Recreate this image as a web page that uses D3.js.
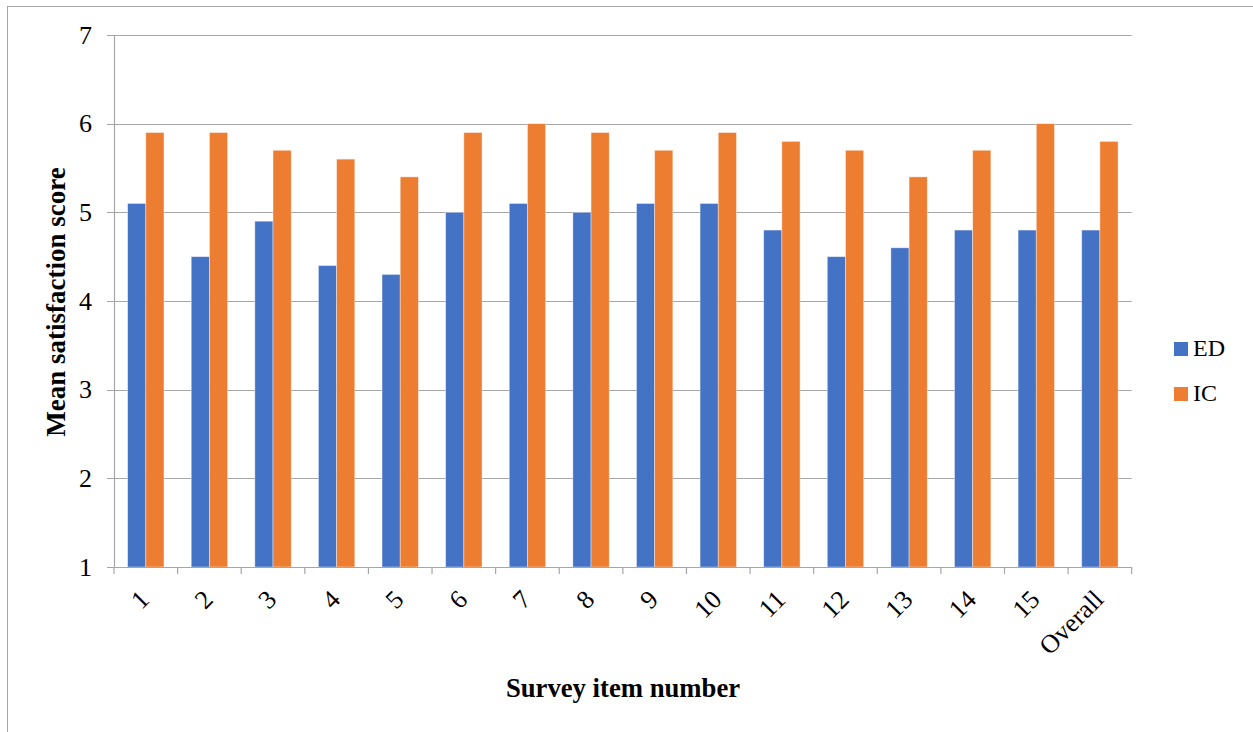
<!DOCTYPE html>
<html>
<head>
<meta charset="utf-8">
<script src="https://cdn.jsdelivr.net/npm/d3@7"></script>
<style>
  html, body { margin: 0; padding: 0; background: #fff; }
  svg { display: block; }
  text { font-family: "Liberation Serif", "Times New Roman", serif; fill: #000; }
</style>
</head>
<body>
<svg id="chart" width="1253" height="732"></svg>
<script>
// Survey items and mean satisfaction scores per department
const categories = ["1","2","3","4","5","6","7","8","9","10","11","12","13","14","15","Overall"];
const seriesNames = ["ED", "IC"];
const edValues = [5.1, 4.5, 4.9, 4.4, 4.3, 5.0, 5.1, 5.0, 5.1, 5.1, 4.8, 4.5, 4.6, 4.8, 4.8, 4.8];
const icValues = [5.9, 5.9, 5.7, 5.6, 5.4, 5.9, 6.0, 5.9, 5.7, 5.9, 5.8, 5.7, 5.4, 5.7, 6.0, 5.8];
const yTicks = [1, 2, 3, 4, 5, 6, 7];
const colors = ["#4472C4", "#ED7D31"];

const svg = d3.select("#chart");

// outer chart frame
svg.append("rect")
  .attr("x", 7.5).attr("y", 6.5)
  .attr("width", 1253).attr("height", 740)
  .attr("fill", "none").attr("stroke", "#A6A6A6").attr("stroke-width", 1);

const plotLeft = 114, plotRight = 1131.7, plotTop = 35, plotBottom = 567;

const x0 = d3.scaleBand().domain(categories).range([plotLeft, plotRight]).paddingInner(0).paddingOuter(0);
const groupWidth = x0.bandwidth() * 0.572;
const x1 = d3.scaleBand().domain(seriesNames).range([0, groupWidth]);
const y = d3.scaleLinear().domain([1, 7]).range([plotBottom, plotTop]);

// horizontal gridlines
svg.append("g")
  .selectAll("line")
  .data(yTicks)
  .join("line")
  .attr("x1", plotLeft - 7).attr("x2", plotRight)
  .attr("y1", d => Math.round(y(d)) + 0.5).attr("y2", d => Math.round(y(d)) + 0.5)
  .attr("stroke", "#A6A6A6").attr("stroke-width", 1);

// y tick labels
svg.append("g")
  .selectAll("text")
  .data(yTicks)
  .join("text")
  .attr("x", 92).attr("y", d => y(d) + 8.5)
  .attr("text-anchor", "end")
  .style("font-size", "26px")
  .text(d => d);

// bars
const rows = categories.map((c, i) => ({ cat: c, vals: [edValues[i], icValues[i]] }));
const groups = svg.append("g")
  .selectAll("g")
  .data(rows)
  .join("g")
  .attr("transform", d => `translate(${x0(d.cat) + (x0.bandwidth() - groupWidth) / 2},0)`);

groups.selectAll("rect")
  .data(d => d.vals.map((v, j) => ({ name: seriesNames[j], v, j })))
  .join("rect")
  .attr("x", d => x1(d.name))
  .attr("width", x1.bandwidth())
  .attr("y", d => y(d.v))
  .attr("height", d => y(1) - y(d.v))
  .attr("fill", d => colors[d.j])
  .attr("stroke", "#fff").attr("stroke-opacity", 0.5).attr("stroke-width", 0.8);

// y axis line
svg.append("line")
  .attr("x1", plotLeft + 0.5).attr("x2", plotLeft + 0.5)
  .attr("y1", plotTop).attr("y2", plotBottom)
  .attr("stroke", "#A6A6A6").attr("stroke-width", 1.2);

// x axis line and category ticks
svg.append("line")
  .attr("x1", plotLeft).attr("x2", plotRight)
  .attr("y1", plotBottom + 0.5).attr("y2", plotBottom + 0.5)
  .attr("stroke", "#A6A6A6").attr("stroke-width", 1.2);

const tickPos = categories.map(c => x0(c)).concat([plotRight]);
svg.append("g")
  .selectAll("line")
  .data(tickPos)
  .join("line")
  .attr("x1", d => d).attr("x2", d => d)
  .attr("y1", plotBottom).attr("y2", plotBottom + 7)
  .attr("stroke", "#A6A6A6").attr("stroke-width", 1.2);

// rotated category labels
svg.append("g")
  .selectAll("text")
  .data(categories)
  .join("text")
  .attr("text-anchor", "end")
  .style("font-size", "26px")
  .attr("transform", c => `translate(${x0(c) + x0.bandwidth() / 2 + 5},${plotBottom + 34}) rotate(-45)`)
  .text(c => c);

// axis titles
svg.append("text")
  .attr("x", 623).attr("y", 697)
  .attr("text-anchor", "middle")
  .style("font-size", "26.7px").style("font-weight", "bold")
  .text("Survey item number");

svg.append("text")
  .attr("transform", "translate(65,302) rotate(-90)")
  .attr("text-anchor", "middle")
  .style("font-size", "27px").style("font-weight", "bold")
  .text("Mean satisfaction score");

// legend
const legend = svg.append("g")
  .selectAll("g")
  .data(seriesNames)
  .join("g")
  .attr("transform", (d, i) => `translate(1174,${342 + i * 45})`);

legend.append("rect")
  .attr("width", 14).attr("height", 14)
  .attr("fill", (d, i) => colors[i]);

legend.append("text")
  .attr("x", 19).attr("y", 14)
  .style("font-size", "24px")
  .text(d => d);
</script>
</body>
</html>
